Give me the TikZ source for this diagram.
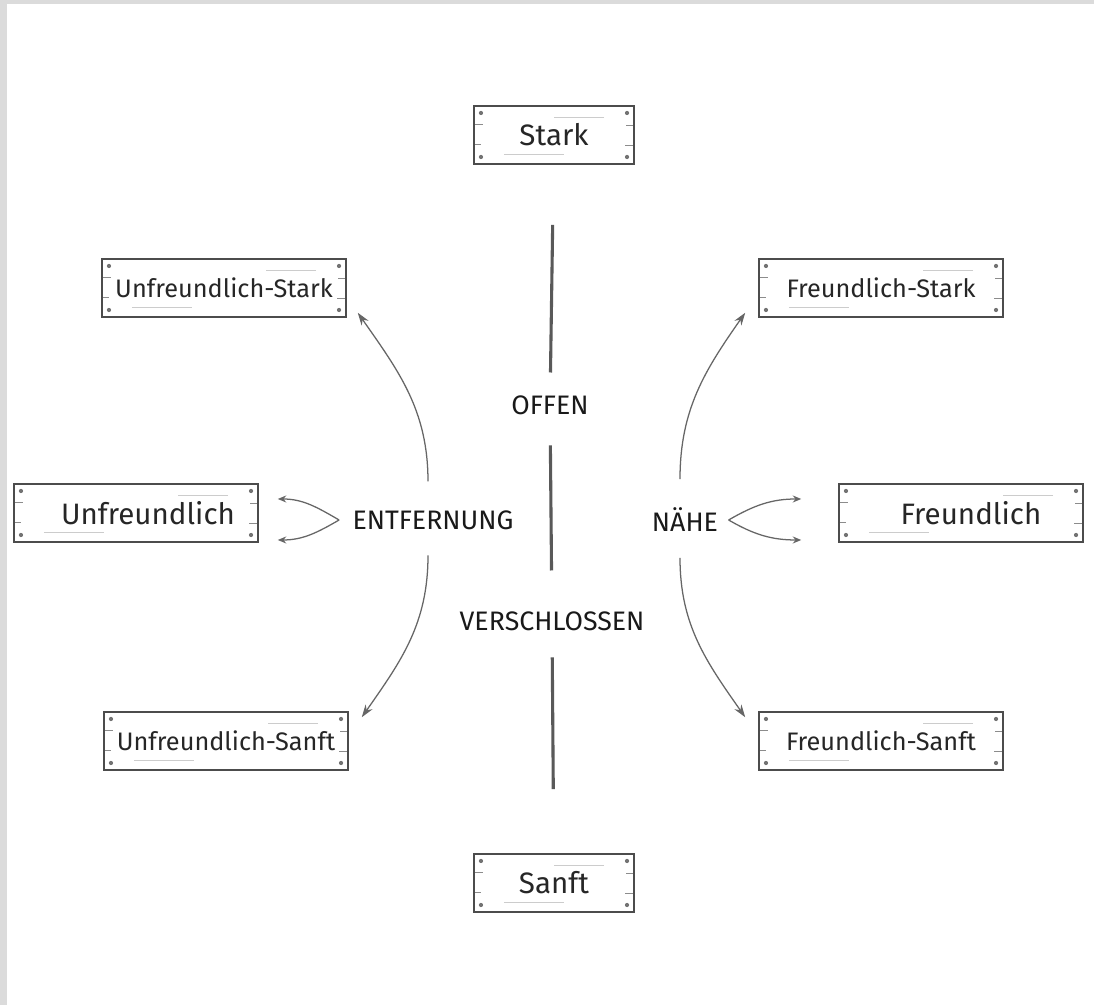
\documentclass[tikz,border=0pt]{standalone}
\usepackage{fontspec}
\setmainfont{Fira Sans}
\usetikzlibrary{positioning}
\usetikzlibrary{arrows.meta}

\tikzset{
  plank/.style={draw=black!70, line width=1.1pt, fill=white, rectangle,
    minimum width=6.1cm, minimum height=1.45cm, text=black!85,
    font=\fontsize{18}{21}\selectfont,
    path picture={
      \fill[black!55] ([shift={(7,-7)}]path picture bounding box.north west) circle (1.5pt)
        ([shift={(-7,-7)}]path picture bounding box.north east) circle (1.5pt)
        ([shift={(7,7)}]path picture bounding box.south west) circle (1.5pt)
        ([shift={(-7,7)}]path picture bounding box.south east) circle (1.5pt);
      \draw[black!45, line width=0.7pt]
        ([shift={(0,10)}]path picture bounding box.west) -- +(9,0)
        ([shift={(0,-10)}]path picture bounding box.west) -- +(7,0)
        ([shift={(0,9)}]path picture bounding box.east) -- +(-8,0)
        ([shift={(0,-11)}]path picture bounding box.east) -- +(-9,0);
      \draw[black!20, line width=0.6pt]
        ([shift={(30,10)}]path picture bounding box.south west) -- +(60,0)
        ([shift={(-30,-11)}]path picture bounding box.north east) -- +(-50,0);
    }},
  smallplank/.style={plank, minimum width=4cm, font=\fontsize{21}{24}\selectfont},
  bigplank/.style={plank, font=\fontsize{21}{24}\selectfont},
  axislbl/.style={font=\fontsize{19}{22}\selectfont, text=black!90},
  axisline/.style={draw=black!65, line width=2.2pt},
  bow/.style={-{Stealth[length=9pt,width=6pt]}, draw=black!60, line width=0.9pt},
  fork/.style={-{Stealth[length=6pt,width=5pt]}, draw=black!60, line width=0.9pt},
}

\begin{document}
\begin{tikzpicture}[x=0.025cm, y=0.025cm]
  \useasboundingbox (0,0) rectangle (1094,1005);
  \fill[black!14] (0,0) rectangle (1094,1005);
  \fill[white] (7,0) rectangle (1094,1001);

  % signs
  \node[smallplank] (stark) at (554,870) {Stark};
  \node[smallplank] (sanft) at (554,122) {Sanft};
  \node[plank] (ustark) at (224,717) {Unfreundlich-Stark};
  \node[plank] (fstark) at (881,717) {Freundlich-Stark};
  \node[bigplank] (unfr) at (136,492) {\hspace{0.6cm}Unfreundlich};
  \node[bigplank] (freu) at (961,492) {\hspace{0.5cm}Freundlich};
  \node[plank] (usanft) at (226,264) {Unfreundlich-Sanft};
  \node[plank] (fsanft) at (881,264) {Freundlich-Sanft};

  % axis labels
  \node[axislbl] (offen) at (550,600) {OFFEN};
  \node[axislbl] (versch) at (552,384) {VERSCHLOSSEN};
  \node[axislbl] (entf) at (433,485) {ENTFERNUNG};
  \node[axislbl] (naehe) at (685,485) {NÄHE};

  % vertical axis
  \draw[axisline, shorten <=1.5cm, shorten >=0.45cm] (stark) -- (offen);
  \draw[axisline, shorten <=0.65cm, shorten >=0.9cm] (offen) -- (versch);
  \draw[axisline, shorten <=0.55cm, shorten >=1.6cm] (versch) -- (sanft);

  % bows
  \draw[bow] ([shift={(-5,24)}]entf.north) to[out=90,in=-55] ([shift={(11,5)}]ustark.south east);
  \draw[bow] ([shift={(-5,-21)}]entf.south) to[out=-90,in=55] ([shift={(13,-6)}]usanft.north east);
  \draw[bow] ([shift={(-5,24)}]naehe.north) to[out=90,in=-125] ([shift={(-13,5)}]fstark.south west);
  \draw[bow] ([shift={(-5,-21)}]naehe.south) to[out=-90,in=125] ([shift={(-13,-6)}]fsanft.north west);

  % forks
  \draw[fork] ([xshift=-6]entf.west) to[out=150,in=0] ([shift={(19,14)}]unfr.east);
  \draw[fork] ([xshift=-6]entf.west) to[out=-150,in=0] ([shift={(19,-27)}]unfr.east);
  \draw[fork] ([xshift=4]naehe.east) to[out=30,in=180] ([shift={(-37,14)}]freu.west);
  \draw[fork] ([xshift=4]naehe.east) to[out=-30,in=180] ([shift={(-37,-27)}]freu.west);
\end{tikzpicture}
\end{document}
